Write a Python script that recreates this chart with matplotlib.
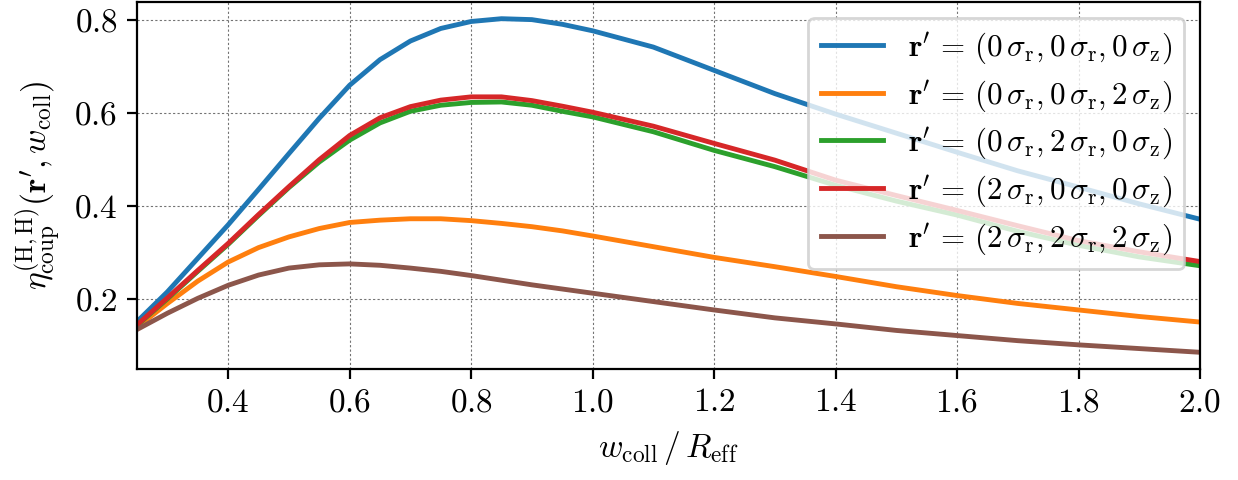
import matplotlib

matplotlib.use("Agg")
import matplotlib.pyplot as plt

plt.rcParams.update({
    "font.family": "serif",
    "font.serif": ["cmr10"],
    "mathtext.fontset": "cm",
    "axes.formatter.use_mathtext": True,
    "font.size": 12,
})

# collimation waist over effective radius
w_ratio = [0.25, 0.30, 0.35, 0.40, 0.45, 0.50, 0.55, 0.60, 0.65, 0.70,
           0.75, 0.80, 0.85, 0.90, 0.95, 1.00, 1.10, 1.20, 1.30, 1.40,
           1.50, 1.60, 1.70, 1.80, 1.90, 2.00]

eta_000 = [0.151, 0.215, 0.287, 0.359, 0.435, 0.512, 0.588, 0.659, 0.714, 0.754,
           0.781, 0.796, 0.802, 0.800, 0.790, 0.776, 0.741, 0.691, 0.641, 0.597,
           0.556, 0.515, 0.475, 0.440, 0.404, 0.371]
eta_002 = [0.139, 0.190, 0.238, 0.279, 0.310, 0.333, 0.351, 0.364, 0.369, 0.372,
           0.372, 0.368, 0.362, 0.355, 0.346, 0.335, 0.312, 0.289, 0.269, 0.248,
           0.226, 0.207, 0.190, 0.176, 0.162, 0.150]
eta_020 = [0.143, 0.200, 0.259, 0.317, 0.379, 0.439, 0.494, 0.541, 0.578, 0.603,
           0.616, 0.622, 0.623, 0.616, 0.603, 0.591, 0.559, 0.519, 0.484, 0.444,
           0.410, 0.380, 0.345, 0.315, 0.290, 0.271]
eta_200 = [0.144, 0.202, 0.261, 0.319, 0.381, 0.441, 0.499, 0.551, 0.589, 0.613,
           0.627, 0.634, 0.634, 0.626, 0.614, 0.601, 0.571, 0.534, 0.498, 0.455,
           0.422, 0.390, 0.357, 0.325, 0.301, 0.280]
eta_222 = [0.134, 0.169, 0.201, 0.229, 0.251, 0.266, 0.273, 0.275, 0.272, 0.266,
           0.259, 0.250, 0.240, 0.230, 0.221, 0.212, 0.194, 0.176, 0.159, 0.146,
           0.132, 0.121, 0.110, 0.101, 0.093, 0.085]

offsets = [(0, 0, 0), (0, 0, 2), (0, 2, 0), (2, 0, 0), (2, 2, 2)]
curves = [eta_000, eta_002, eta_020, eta_200, eta_222]
colors = ["C0", "C1", "C2", "C3", "C5"]

fig, ax = plt.subplots(figsize=(6.19, 2.4), dpi=200)
fig.subplots_adjust(left=0.1107, right=0.9693, top=0.9958, bottom=0.2313)

for (a, b, c), y, col in zip(offsets, curves, colors):
    label = (r"$\mathbf{r}^\prime\,=\,(%d\,\sigma_\mathrm{r}, %d\,\sigma_\mathrm{r}, "
             r"%d\,\sigma_\mathrm{z})$" % (a, b, c))
    ax.plot(w_ratio, y, color=col, lw=1.75, label=label)

ax.set_xlim(0.25, 2.0)
ax.set_yticks([0.2, 0.4, 0.6, 0.8])
ax.grid(True, color="0.45", ls=(0, (2, 2)), lw=0.4)
ax.set_xlabel(r"$w_\mathrm{coll}\,/\,R_\mathrm{eff}$")
ax.set_ylabel(r"$\eta_\mathrm{coup}^\mathrm{(H,H)}(\mathbf{r}^\prime, w_\mathrm{coll})$")
ax.legend(loc="upper right", fontsize=11.2, labelspacing=0.38)

fig.savefig("out.png", dpi=200)
